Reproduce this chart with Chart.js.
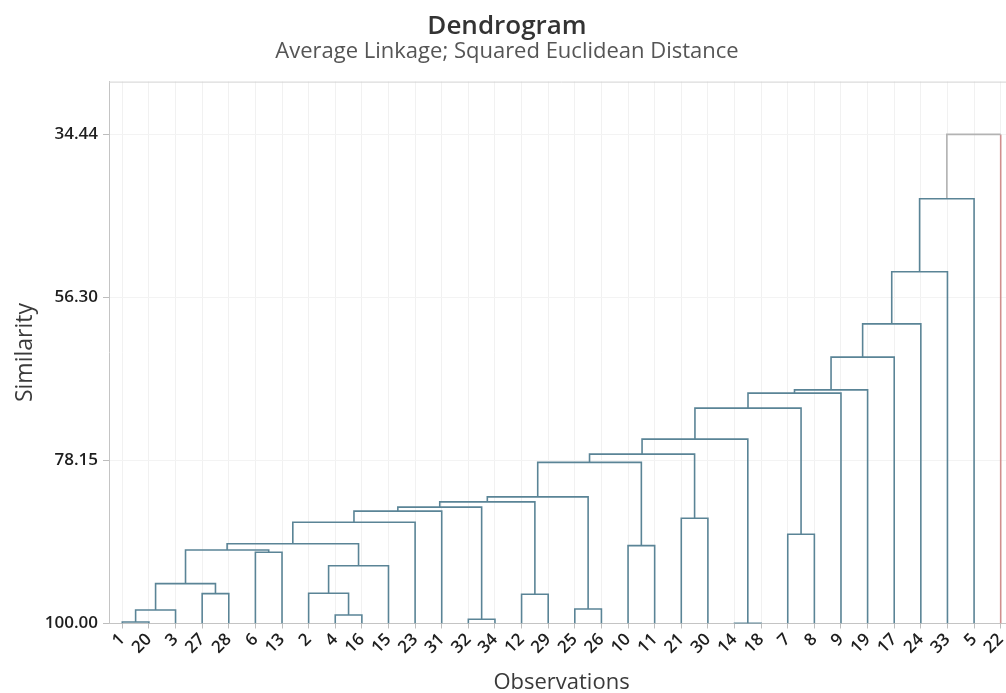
<!DOCTYPE html>
<html>
<head>
<meta charset="utf-8">
<script src="https://cdn.jsdelivr.net/npm/chart.js@4/dist/chart.umd.min.js"></script>
<style>
html,body{margin:0;padding:0;background:#fff;overflow:hidden;width:1006px;height:693px}
#wrap{width:1042px;height:693px;position:relative}
</style>
</head>
<body>
<div id="wrap"><canvas id="c" width="1042" height="693"></canvas></div>
<script>
// Leaf order along the x axis (observation numbers)
const observations = [1,20,3,27,28,6,13,2,4,16,15,23,31,32,34,12,29,25,26,10,11,21,30,14,18,7,8,9,19,17,24,33,5,22];
// Amalgamation steps: positive = observation number, negative = -(step number)
const joinLeft  = [14, 1, 32, 4, -2, 25, 12, 27, 2, -5, -9, 6, -10, 10, -13, 7, -15, 21, -17, -19, -20, -21, -22, -23, -24, -25, -26, -27, -28, -29, -30, -31, -32];
const joinRight = [18, 20, 34, 16, 3, 26, 29, 28, -4, -8, 15, 13, -12, 11, -11, 8, 23, 30, 31, -3, -7, -6, -14, -18, -1, -16, 9, 19, 17, 24, 33, 5, 22];
const joinSimilarity = [99.96, 99.80, 99.44, 98.86, 98.19, 98.05, 96.08, 96.00, 95.95, 94.66, 92.25, 90.45, 90.14, 89.56, 89.30, 88.03, 86.43, 85.89, 84.94, 84.40, 83.70, 83.03, 78.40, 77.29, 75.29, 71.13, 69.12, 68.68, 64.29, 59.83, 52.85, 43.06, 34.44];
const similarityTicks = [100.00, 78.15, 56.30, 34.44];
const numClusters = 2;

const BLUE = '#5a8496', GREY = '#b3b3b3', RED = '#cf8f8f';
const FONT = 'Open Sans';

function build() {
  const nodeX = {}, nodeY = {};
  function pos(id) {
    if (id > 0) return { x: observations.indexOf(id) + 1, y: 100 };
    return { x: nodeX[-id], y: nodeY[-id] };
  }
  const datasets = [];
  const nSteps = joinSimilarity.length;
  for (let s = 0; s < nSteps; s++) {
    const L = pos(joinLeft[s]), R = pos(joinRight[s]);
    const h = joinSimilarity[s];
    nodeX[s + 1] = (L.x + R.x) / 2;
    nodeY[s + 1] = h;
    const isTop = s >= nSteps - (numClusters - 1);
    const common = { borderWidth: 1.6, pointRadius: 0, fill: false, tension: 0, borderJoinStyle: 'miter', borderCapStyle: 'butt' };
    if (!isTop) {
      datasets.push(Object.assign({ data: [{x:L.x,y:L.y},{x:L.x,y:h},{x:R.x,y:h},{x:R.x,y:R.y}], borderColor: BLUE }, common));
    } else {
      datasets.push(Object.assign({ data: [{x:L.x,y:L.y},{x:L.x,y:h},{x:R.x,y:h}], borderColor: joinLeft[s] > 0 ? RED : GREY }, common));
      datasets.push(Object.assign({ data: [{x:R.x,y:h},{x:R.x,y:R.y}], borderColor: joinRight[s] > 0 ? RED : GREY }, common));
    }
  }

  const framePlugin = {
    id: 'frame',
    beforeDatasetsDraw(chart) {
      const a = chart.chartArea, ctx = chart.ctx;
      ctx.save();
      ctx.strokeStyle = '#d2d2d2';
      ctx.lineWidth = 1;
      ctx.beginPath();
      ctx.moveTo(a.left, a.top + 0.5);
      ctx.lineTo(a.right, a.top + 0.5);
      ctx.lineTo(a.right, a.bottom);
      ctx.stroke();
      ctx.restore();
    }
  };

  new Chart(document.getElementById('c'), {
    type: 'line',
    data: { datasets },
    plugins: [framePlugin],
    options: {
      responsive: false,
      animation: false,
      devicePixelRatio: 1,
      layout: { padding: { left: 0, right: 28, top: 0, bottom: 0 } },
      plugins: {
        legend: { display: false },
        tooltip: { enabled: false },
        title: { display: true, text: 'Dendrogram', color: '#333', font: { family: FONT, size: 26, weight: '600' }, padding: { top: 11, bottom: -4 } },
        subtitle: { display: true, text: 'Average Linkage; Squared Euclidean Distance', color: '#555', font: { family: FONT, size: 22, weight: '400' }, padding: { top: 0, bottom: 17 } }
      },
      scales: {
        x: {
          type: 'linear',
          min: 0.5,
          max: observations.length + 0.5,
          afterBuildTicks: ax => { ax.ticks = observations.map((o, i) => ({ value: i + 1 })); },
          afterFit: ax => { ax.height = 69.5; },
          ticks: {
            autoSkip: false, minRotation: 45, maxRotation: 45, padding: 1,
            color: '#1e1e1e', font: { family: FONT, size: 17, weight: '600' },
            callback: v => String(observations[v - 1])
          },
          grid: { color: '#f1f1f1', tickColor: '#bdbdbd', tickLength: 5 },
          border: { display: true, color: '#c4c4c4' },
          title: { display: true, text: 'Observations', color: '#3a3a3a', font: { family: FONT, size: 22, weight: '400' }, padding: { top: 0, bottom: -3 } }
        },
        y: {
          type: 'linear',
          reverse: true,
          min: 27.36,
          max: 100,
          afterBuildTicks: ax => { ax.ticks = similarityTicks.map(v => ({ value: v })); },
          afterFit: ax => { ax.width = 109; },
          ticks: {
            padding: 5, color: '#1e1e1e', font: { family: FONT, size: 17, weight: '600' },
            callback: v => Number(v).toFixed(2)
          },
          grid: { color: '#f3f3f3', tickColor: '#bdbdbd', tickLength: 6 },
          border: { display: true, color: '#c4c4c4' },
          title: { display: true, text: 'Similarity', color: '#3a3a3a', font: { family: FONT, size: 23, weight: '400' }, padding: { top: 12, bottom: 0 } }
        }
      }
    }
  });
}

Promise.all([
  document.fonts.load('600 24px "Open Sans"'),
  document.fonts.load('400 20px "Open Sans"')
]).then(build, build);
</script>
</body>
</html>
